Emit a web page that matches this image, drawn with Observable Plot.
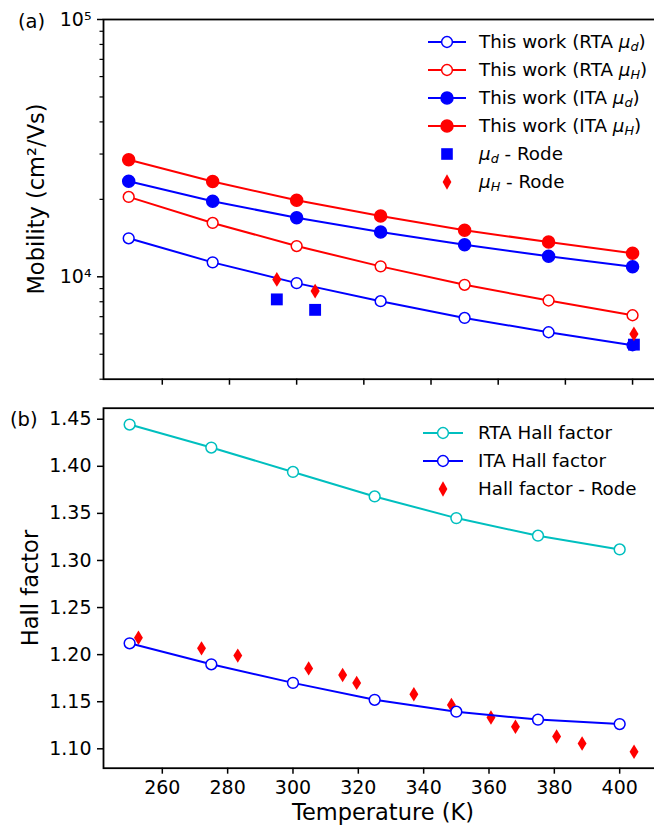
<!DOCTYPE html>
<html><head><meta charset="utf-8">
<script src="https://cdn.jsdelivr.net/npm/d3@7"></script>
<script src="https://cdn.jsdelivr.net/npm/@observablehq/plot@0.6"></script>
<style>
body{margin:0;background:#fff;font-family:"DejaVu Sans",sans-serif;}
#wrap{position:relative;width:654px;height:827px;overflow:hidden;background:#fff;}
.panel{position:absolute;left:0;max-width:none !important;}
.legend{position:absolute;font-size:18.3px;color:#000;line-height:28px;}
.row{display:flex;align-items:center;height:28px;white-space:nowrap;}
.row svg{flex:none;}
.tag{position:absolute;font-size:19.5px;line-height:19px;color:#000;}
.title{position:absolute;font-size:22.5px;color:#000;white-space:nowrap;line-height:normal;}
i sub{font-size:70%;line-height:0;vertical-align:-0.25em;}
</style>
</head><body>
<div id="wrap"></div>
<script>
// ---------- data ----------
const temps = [250, 275, 300, 325, 350, 375, 400];
const rtaMuD = [14110, 11380, 9450, 8040, 6920, 6090, 5420];
const rtaMuH = [20440, 16190, 13170, 10980, 9310, 8090, 7090];
const itaMuD = [23530, 19660, 16970, 14930, 13320, 12010, 10940];
const itaMuH = [28500, 23450, 19840, 17240, 15160, 13650, 12340];
const rodeMuDT = [294.1, 305.5, 400.4];
const rodeMuD = [8170, 7440, 5450];
const rodeMuHT = [294.1, 305.5, 400.4];
const rodeMuH = [9770, 8800, 6000];

const rtaHall = [1.4443, 1.4199, 1.394, 1.368, 1.345, 1.3263, 1.3117];
const itaHall = [1.212, 1.1897, 1.170, 1.152, 1.1394, 1.131, 1.1263];
const rodeHallT = [252.7, 272.0, 283.1, 304.8, 315.2, 319.5, 337.0, 348.5, 360.6, 368.1, 380.7, 388.5, 404.4];
const rodeHall = [1.218, 1.2067, 1.199, 1.1854, 1.1784, 1.170, 1.158, 1.1465, 1.1333, 1.1234, 1.113, 1.1056, 1.0968];

const xTicks = [260, 280, 300, 320, 340, 360, 380, 400];
const yMajorTop = [1e4, 1e5];
const yMajorTopLabels = ["10⁴", "10⁵"];
const yMinorTop = [4000, 5000, 6000, 7000, 8000, 9000, 20000, 30000, 40000, 50000, 60000, 70000, 80000, 90000];
const yTicksBottom = [1.10, 1.15, 1.20, 1.25, 1.30, 1.35, 1.40, 1.45];

// ---------- helpers ----------
const BLUE = "#0000ff", RED = "#ff0000", CYAN = "#00bfbf";
const FS = 19;
const pts = (xs, ys) => xs.map((t, i) => ({T: t, v: ys[i]}));
const thinDiamond = {
  draw(ctx, size) {
    const r = Math.sqrt(size / Math.PI), w = r * 0.62;
    ctx.moveTo(0, -r); ctx.lineTo(w, 0); ctx.lineTo(0, r); ctx.lineTo(-w, 0); ctx.closePath();
  }
};
const style = {fontFamily: "'DejaVu Sans'", fontSize: "19px", color: "#000", background: "transparent", overflow: "visible", maxWidth: "none"};

function series(data, color, open) {
  return [
    Plot.line(data, {x: "T", y: "v", stroke: color, strokeWidth: 2}),
    Plot.dot(data, {x: "T", y: "v", r: open ? 5.4 : 6, stroke: color, strokeWidth: 1.5, fill: open ? "white" : color})
  ];
}

// ---------- top panel ----------
const topPlot = Plot.plot({
  width: 660, height: 390,
  marginLeft: 103, marginRight: 1.4, marginTop: 19, marginBottom: 11.3,
  style,
  x: {domain: [242.5, 407.9]},
  y: {type: "log", domain: [4000, 1e5]},
  marks: [
    ...series(pts(temps, rtaMuD), BLUE, true),
    ...series(pts(temps, rtaMuH), RED, true),
    ...series(pts(temps, itaMuD), BLUE, false),
    ...series(pts(temps, itaMuH), RED, false),
    Plot.dot(pts(rodeMuDT, rodeMuD), {x: "T", y: "v", symbol: "square", r: 6.7, fill: BLUE}),
    Plot.dot(pts(rodeMuHT, rodeMuH), {x: "T", y: "v", symbol: thinDiamond, r: 7.4, fill: RED}),
    Plot.axisX({ticks: xTicks, tickSize: 6, tickFormat: () => "", label: null, strokeWidth: 1.5}),
    Plot.axisY({ticks: yMinorTop, tickSize: 3.5, tickFormat: () => "", label: null, strokeWidth: 1.2}),
    Plot.axisY({ticks: yMajorTop, tickSize: 6, tickPadding: 6, label: null, strokeWidth: 1.5, fontSize: FS,
      tickFormat: d => yMajorTopLabels[yMajorTop.indexOf(d)]}),
    Plot.frame({stroke: "#000", strokeWidth: 1.8})
  ]
});

// ---------- bottom panel ----------
const botPlot = Plot.plot({
  width: 660, height: 437,
  marginLeft: 103, marginRight: 1.3, marginTop: 17.7, marginBottom: 59.3,
  style,
  x: {domain: [242.0, 412.1]},
  y: {domain: [1.0794, 1.4617]},
  marks: [
    Plot.dot(pts(rodeHallT, rodeHall), {x: "T", y: "v", symbol: thinDiamond, r: 7.2, fill: RED}),
    ...series(pts(temps, rtaHall), CYAN, true),
    ...series(pts(temps, itaHall), BLUE, true),
    Plot.axisX({ticks: xTicks, tickSize: 6, tickPadding: 6, label: null, strokeWidth: 1.5, fontSize: FS}),
    Plot.axisY({ticks: yTicksBottom, tickSize: 6, tickPadding: 6, label: null, strokeWidth: 1.5, fontSize: FS,
      tickFormat: d => d.toFixed(2)}),
    Plot.frame({stroke: "#000", strokeWidth: 1.8})
  ]
});

const wrap = document.getElementById("wrap");
topPlot.classList.add("panel"); topPlot.style.top = "0px";
botPlot.classList.add("panel"); botPlot.style.top = "390px";
wrap.appendChild(topPlot);
wrap.appendChild(botPlot);

// ---------- axis titles ----------
function title(text, cx, cy, rot) {
  const d = document.createElement("div");
  d.className = "title"; d.textContent = text;
  d.style.left = cx + "px"; d.style.top = cy + "px";
  d.style.transform = `translate(-50%,-50%)${rot ? " rotate(-90deg)" : ""}`;
  wrap.appendChild(d);
}
title("Mobility (cm²/Vs)", 35.5, 199, true);
title("Hall factor", 30, 588, true);
title("Temperature (K)", 383, 812.2, false);

// ---------- legends ----------
function handle(w, color, kind) {
  const c = w / 2;
  let s = `<svg width="${w}" height="28" viewBox="0 0 ${w} 28">`;
  if (kind === "open" || kind === "filled")
    s += `<line x1="0" y1="14" x2="${w}" y2="14" stroke="${color}" stroke-width="2.2"/>`;
  if (kind === "open") s += `<circle cx="${c}" cy="14" r="5.4" fill="white" stroke="${color}" stroke-width="1.5"/>`;
  if (kind === "filled") s += `<circle cx="${c}" cy="14" r="6" fill="${color}" stroke="${color}" stroke-width="1.5"/>`;
  if (kind === "square") s += `<rect x="${c - 5.8}" y="8.2" width="11.6" height="11.6" fill="${color}"/>`;
  if (kind === "diamond") s += `<path d="M${c},6.2L${c + 4.4},14L${c},21.8L${c - 4.4},14Z" fill="${color}"/>`;
  return s + "</svg>";
}
function legend(left, top, w, gap, items) {
  const div = document.createElement("div");
  div.className = "legend";
  div.style.left = left + "px"; div.style.top = top + "px";
  div.innerHTML = items.map(([color, kind, label]) =>
    `<div class="row">${handle(w, color, kind)}<span style="margin-left:${gap}px">${label}</span></div>`).join("");
  wrap.appendChild(div);
}
const muD = "<i>μ<sub>d</sub></i>", muH = "<i>μ<sub>H</sub></i>";
legend(428, 27.7, 38, 13, [
  [BLUE, "open", `This work (RTA ${muD})`],
  [RED, "open", `This work (RTA ${muH})`],
  [BLUE, "filled", `This work (ITA ${muD})`],
  [RED, "filled", `This work (ITA ${muH})`],
  [BLUE, "square", `${muD} - Rode`],
  [RED, "diamond", `${muH} - Rode`]
]);
legend(423, 419.4, 40, 15, [
  [CYAN, "open", "RTA Hall factor"],
  [BLUE, "open", "ITA Hall factor"],
  [RED, "diamond", "Hall factor - Rode"]
]);

// panel tags
function tag(text, left, top) {
  const d = document.createElement("div");
  d.className = "tag"; d.textContent = text;
  d.style.left = left + "px"; d.style.top = top + "px";
  wrap.appendChild(d);
}
tag("(a)", 18, 12);
tag("(b)", 10, 410);
</script>
</body></html>
